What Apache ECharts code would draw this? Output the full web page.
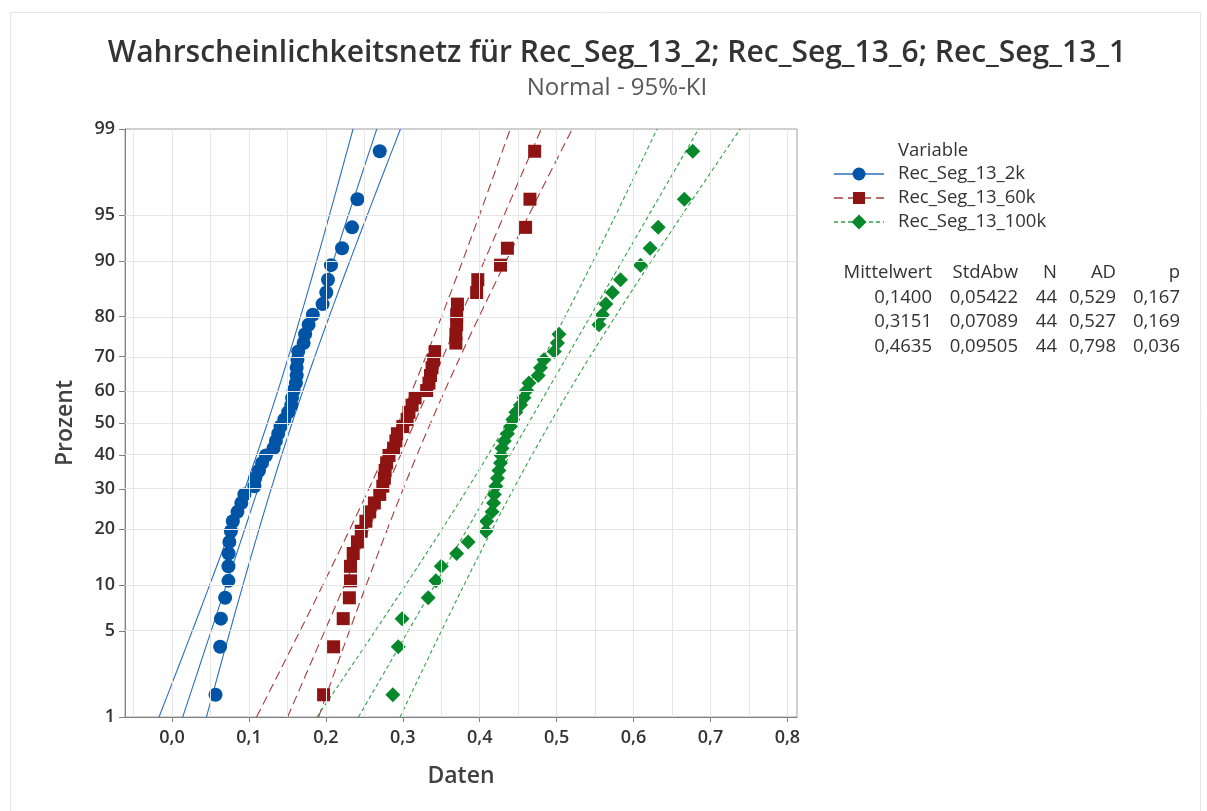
<!DOCTYPE html>
<html><head><meta charset="utf-8">
<script src="https://cdn.jsdelivr.net/npm/echarts@6/dist/echarts.min.js"></script>
<style>html,body{margin:0;padding:0;background:#fff}#c{width:1207px;height:811px}</style>
</head><body><div id="c"></div>
<script>
const seriesNames = ['Rec_Seg_13_2k', 'Rec_Seg_13_60k', 'Rec_Seg_13_100k'];
const data2k = [0.0565,0.0625,0.0635,0.069,0.0733,0.0733,0.0735,0.0745,0.0765,0.079,0.085,0.090,0.094,0.107,0.108,0.113,0.117,0.122,0.132,0.135,0.138,0.141,
  0.146,0.151,0.155,0.156,0.158,0.161,0.162,0.162,0.163,0.164,0.171,0.173,0.1775,0.183,0.1957,0.2005,0.2027,0.2066,0.221,0.234,0.241,0.270];
const data60k = [0.197,0.210,0.2225,0.2305,0.232,0.232,0.2355,0.241,0.246,0.252,0.257,0.263,0.270,0.274,0.276,0.277,0.279,0.282,0.288,0.291,0.293,0.300,
  0.3056,0.308,0.312,0.316,0.331,0.334,0.336,0.338,0.340,0.342,0.369,0.369,0.370,0.370,0.371,0.396,0.3975,0.427,0.436,0.4596,0.4653,0.4714];
const data100k = [0.287,0.294,0.299,0.333,0.343,0.350,0.370,0.385,0.408,0.409,0.416,0.418,0.419,0.421,0.423,0.425,0.427,0.428,0.429,0.432,0.436,0.440,
  0.443,0.447,0.453,0.4575,0.461,0.464,0.476,0.479,0.4835,0.497,0.501,0.503,0.555,0.5595,0.564,0.5725,0.583,0.609,0.6215,0.632,0.666,0.677];
const means = [0.1400, 0.3151, 0.4635];
const sds = [0.05422, 0.07089, 0.09505];
const ns = [44, 44, 44];
const meanTxt = ['0,1400', '0,3151', '0,4635'];
const sdTxt = ['0,05422', '0,07089', '0,09505'];
const adTxt = ['0,529', '0,527', '0,798'];
const pTxt = ['0,167', '0,169', '0,036'];
const percentTicks = [1, 5, 10, 20, 30, 40, 50, 60, 70, 80, 90, 95, 99];
const xTicks = [0, 0.1, 0.2, 0.3, 0.4, 0.5, 0.6, 0.7, 0.8];
const xGridVals = [-0.05, 0, 0.05, 0.1, 0.15, 0.2, 0.25, 0.3, 0.35, 0.4, 0.45, 0.5, 0.55, 0.6, 0.65, 0.7, 0.75, 0.8];
const colors = ['#0054A6', '#8E1313', '#07882B'];
const lineColors = ['#2a6fc0', '#a83a3a', '#33a046'];
const symbols = ['circle', 'rect', 'diamond'];
const symSizes = [14, 13, 15];
const dashes = ['solid', [9, 5], [4, 3]];

function qnorm(p){
  const a=[-3.969683028665376e+01,2.209460984245205e+02,-2.759285104469687e+02,1.383577518672690e+02,-3.066479806614716e+01,2.506628277459239e+00];
  const b=[-5.447609879822406e+01,1.615858368580409e+02,-1.556989798598866e+02,6.680131188771972e+01,-1.328068155288572e+01];
  const c=[-7.784894002430293e-03,-3.223964580411365e-01,-2.400758277161838e+00,-2.549732539343734e+00,4.374664141464968e+00,2.938163982698783e+00];
  const d=[7.784695709041462e-03,3.224671290700398e-01,2.445134137142996e+00,3.754408661907416e+00];
  const pl=0.02425, ph=1-pl; let q,r;
  if(p<pl){q=Math.sqrt(-2*Math.log(p));return (((((c[0]*q+c[1])*q+c[2])*q+c[3])*q+c[4])*q+c[5])/((((d[0]*q+d[1])*q+d[2])*q+d[3])*q+1);}
  if(p<=ph){q=p-0.5;r=q*q;return (((((a[0]*r+a[1])*r+a[2])*r+a[3])*r+a[4])*r+a[5])*q/(((((b[0]*r+b[1])*r+b[2])*r+b[3])*r+b[4])*r+1);}
  q=Math.sqrt(-2*Math.log(1-p));return -(((((c[0]*q+c[1])*q+c[2])*q+c[3])*q+c[4])*q+c[5])/((((d[0]*q+d[1])*q+d[2])*q+d[3])*q+1);
}
const zMin = qnorm(0.01), zMax = qnorm(0.99);
const yTickVals = percentTicks.map(p => qnorm(p / 100));

const FONT = 'Open Sans';
const allData = [data2k, data60k, data100k];
const series = [];
// gridlines through the axes' own scales
series.push({
  type: 'line', data: [], silent: true, z: 1,
  markLine: {
    silent: true, symbol: ['none', 'none'], label: { show: false }, animation: false,
    lineStyle: { color: '#e6e6e6', type: 'solid', width: 1 },
    data: xGridVals.map(v => ({ xAxis: v })).concat(yTickVals.slice(1, -1).map(v => ({ yAxis: v })))
  }
});
allData.forEach((arr, k) => {
  const n = arr.length;
  const m = means[k], s = sds[k], N = ns[k];
  const zc = 1.959964;
  const mid = [], lo = [], hi = [];
  const steps = 60;
  for (let j = 0; j <= steps; j++) {
    const z = zMin + (zMax - zMin) * j / steps;
    const x = m + s * z;
    const h = zc * s * Math.sqrt(1 / N + z * z / (2 * N));
    mid.push([x, z]); lo.push([x - h, z]); hi.push([x + h, z]);
  }
  [lo, mid, hi].forEach(d => series.push({
    type: 'line', data: d, showSymbol: false, symbol: 'none', silent: true, clip: true,
    lineStyle: { color: lineColors[k], width: 1.1, type: dashes[k] }, z: 2
  }));
  series.push({
    type: 'scatter', name: seriesNames[k], symbol: symbols[k], symbolSize: symSizes[k], z: 3,
    itemStyle: { color: colors[k], opacity: 1 },
    data: arr.map((v, i) => [v, qnorm((i + 1 - 0.3) / (n + 0.4))])
  });
});

// legend + stats graphics
const graphic = [];
const TF = '18.5px "Open Sans"';
const lgX = 898, lgY = [174, 198, 222];
graphic.push({ type: 'text', x: lgX, y: 151, style: { text: 'Variable', font: TF, fill: '#333', verticalAlign: 'middle' } });
for (let k = 0; k < 3; k++) {
  graphic.push({ type: 'line', shape: { x1: 834, y1: lgY[k], x2: 884, y2: lgY[k] },
    style: { stroke: lineColors[k], lineWidth: 1.3, lineDash: dashes[k] === 'solid' ? null : dashes[k] } });
  const sym = symbols[k];
  if (sym === 'circle') graphic.push({ type: 'circle', shape: { cx: 859, cy: lgY[k], r: 6.5 }, style: { fill: colors[k] } });
  else if (sym === 'rect') graphic.push({ type: 'rect', shape: { x: 853, y: lgY[k] - 6, width: 12, height: 12 }, style: { fill: colors[k] } });
  else graphic.push({ type: 'polygon', shape: { points: [[859, lgY[k] - 7.5], [866.5, lgY[k]], [859, lgY[k] + 7.5], [851.5, lgY[k]]] }, style: { fill: colors[k] } });
  graphic.push({ type: 'text', x: lgX, y: lgY[k], style: { text: seriesNames[k], font: TF, fill: '#333', verticalAlign: 'middle' } });
}
const colsR = [932, 1018, 1057, 1116, 1180];
const header = ['Mittelwert', 'StdAbw', 'N', 'AD', 'p'];
const rowY = [273, 298, 322, 347];
header.forEach((h, j) => graphic.push({ type: 'text', x: colsR[j], y: rowY[0], style: { text: h, font: TF, fill: '#333', align: 'right', verticalAlign: 'middle' } }));
for (let k = 0; k < 3; k++) {
  const row = [meanTxt[k], sdTxt[k], String(ns[k]), adTxt[k], pTxt[k]];
  row.forEach((t, j) => graphic.push({ type: 'text', x: colsR[j], y: rowY[k + 1], style: { text: t, font: TF, fill: '#333', align: 'right', verticalAlign: 'middle' } }));
}
graphic.push({ type: 'rect', shape: { x: 10.5, y: 12.5, width: 1190, height: 810 }, style: { fill: 'none', stroke: '#e6e6e6', lineWidth: 1 }, z: -10 });

const option = {
  animation: false,
  backgroundColor: '#fff',
  textStyle: { fontFamily: FONT },
  title: {
    text: 'Wahrscheinlichkeitsnetz für Rec_Seg_13_2; Rec_Seg_13_6; Rec_Seg_13_1',
    subtext: 'Normal - 95%-KI',
    left: 612, textAlign: 'center', top: 33, itemGap: 8,
    textStyle: { fontFamily: FONT, fontSize: 30, fontWeight: 600, color: '#333' },
    subtextStyle: { fontFamily: FONT, fontSize: 24, color: '#595959' }
  },
  grid: { left: 125, top: 129, width: 672, height: 588, show: true, borderColor: '#a0a0a0', borderWidth: 1, containLabel: false },
  xAxis: [{
    type: 'value', min: -0.0612, max: 0.8125,
    name: 'Daten', nameLocation: 'middle', nameGap: 48,
    nameTextStyle: { fontFamily: FONT, fontSize: 23, fontWeight: 600, color: '#404040' },
    axisLine: { show: true, onZero: false, lineStyle: { color: '#808080' } },
    axisTick: { show: true, length: 5, customValues: xTicks, lineStyle: { color: '#808080' } },
    axisLabel: { customValues: xTicks, margin: 12, fontFamily: FONT, fontSize: 18, fontWeight: 600, color: '#333',
      formatter: v => v.toFixed(1).replace('.', ',') },
    splitLine: { show: false }
  }],
  yAxis: [{
    type: 'value', min: zMin, max: zMax,
    name: 'Prozent', nameLocation: 'middle', nameGap: 48,
    nameTextStyle: { fontFamily: FONT, fontSize: 23, fontWeight: 600, color: '#404040' },
    axisLine: { show: true, onZero: false, lineStyle: { color: '#808080' } },
    axisTick: { show: true, length: 6, customValues: yTickVals, lineStyle: { color: '#808080' } },
    axisLabel: { customValues: yTickVals, margin: 10, fontFamily: FONT, fontSize: 18, fontWeight: 600, color: '#333',
      formatter: v => { let best = 0, bd = 1e9; yTickVals.forEach((t, i) => { const dd = Math.abs(t - v); if (dd < bd) { bd = dd; best = i; } }); return String(percentTicks[best]); } },
    splitLine: { show: false }
  }],
  series: series,
  graphic: graphic
};
const chart = echarts.init(document.getElementById('c'), null, { renderer: 'canvas' });
chart.setOption(option);
</script></body></html>
